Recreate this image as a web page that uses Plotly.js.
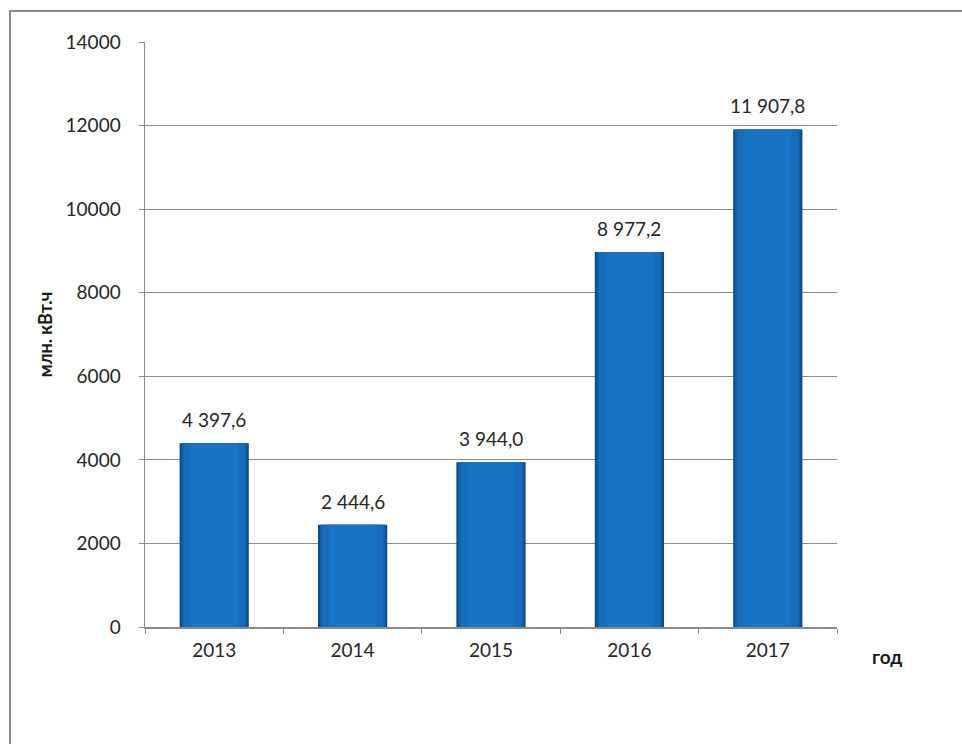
<!DOCTYPE html>
<html>
<head>
<meta charset="utf-8">
<script src="https://cdn.plot.ly/plotly-3.0.1.min.js"></script>
<style>
  html, body { margin: 0; padding: 0; background: #fff; }
  #wrap { position: relative; width: 962px; height: 744px; overflow: hidden; }
  #chart { position: absolute; left: 0; top: 0; width: 962px; height: 744px; }
  #frame { position: absolute; left: 9px; top: 10px; width: 1000px; height: 800px;
           border-left: 2px solid #8c8c8c; border-top: 2px solid #8c8c8c; pointer-events: none; }
</style>
</head>
<body>
<div id="wrap">
  <div id="chart"></div>
  <div id="frame"></div>
</div>
<script>
const years = ['2013', '2014', '2015', '2016', '2017'];
const values = [4397.6, 2444.6, 3944.0, 8977.2, 11907.8];
const yTickVals = [0, 2000, 4000, 6000, 8000, 10000, 12000, 14000];
const yAxisTitle = 'млн. кВт.ч';
const xAxisTitle = 'год';

function fmtRu(v) {
  const parts = v.toFixed(1).split('.');
  const intPart = parts[0].replace(/\B(?=(\d{3})+(?!\d))/g, ' ');
  return intPart + ',' + parts[1];
}

const FONT = 'Lato, "Open Sans", sans-serif';

const layers = [
  { width: 0.50, color: '#0c4886' },
  { width: 0.475, color: '#1260aa' },
  { width: 0.44, color: '#176cbc' },
  { width: 0.34, color: '#1a74c6' }
];

const traces = layers.map((l, i) => ({
  type: 'bar',
  x: years,
  y: values,
  width: l.width,
  marker: { color: l.color, line: { width: 0 } },
  hoverinfo: i === 0 ? 'x+y' : 'skip',
  showlegend: false
}));

const annotations = years.map((yr, i) => ({
  x: i, y: values[i], xref: 'x', yref: 'y',
  text: fmtRu(values[i]),
  showarrow: false, yanchor: 'bottom', yshift: 10,
  font: { family: FONT, size: 19, color: '#262626' }
}));

annotations.push({
  xref: 'paper', yref: 'paper', x: 1.072, y: -0.051,
  xanchor: 'center', yanchor: 'middle',
  text: '<b>' + xAxisTitle + '</b>', showarrow: false,
  font: { family: FONT, size: 19, color: '#1a1a1a' }
});

const layout = {
  width: 962, height: 744,
  margin: { l: 145, r: 125, t: 42, b: 117 },
  paper_bgcolor: '#ffffff',
  plot_bgcolor: '#ffffff',
  barmode: 'overlay',
  font: { family: FONT, size: 19, color: '#262626' },
  xaxis: {
    type: 'category',
    categoryorder: 'array', categoryarray: years,
    range: [-0.5, years.length - 0.5],
    autorange: false,
    showline: true, linecolor: '#8c8c8c', linewidth: 1.5,
    ticks: 'outside', tickson: 'boundaries', ticklen: 5, tickcolor: '#8c8c8c',
    ticklabelstandoff: 6,
    tickangle: 0,
    showgrid: false, zeroline: false,
    tickfont: { family: FONT, size: 19, color: '#262626' }
  },
  yaxis: {
    range: [0, 14000],
    autorange: false,
    tickvals: yTickVals,
    ticktext: yTickVals.map(String),
    showline: true, linecolor: '#8c8c8c', linewidth: 1.5,
    ticks: 'outside', ticklen: 5, tickcolor: '#8c8c8c',
    ticklabelstandoff: 14,
    showgrid: true, gridcolor: '#8c8c8c', gridwidth: 1.2,
    zeroline: false,
    tickfont: { family: FONT, size: 19, color: '#262626' },
    title: { text: '<b>' + yAxisTitle + '</b>', standoff: 8,
             font: { family: FONT, size: 18, color: '#1a1a1a' } }
  },
  annotations: annotations
};

Plotly.newPlot('chart', traces, layout, { staticPlot: true, displayModeBar: false });
</script>
</body>
</html>
